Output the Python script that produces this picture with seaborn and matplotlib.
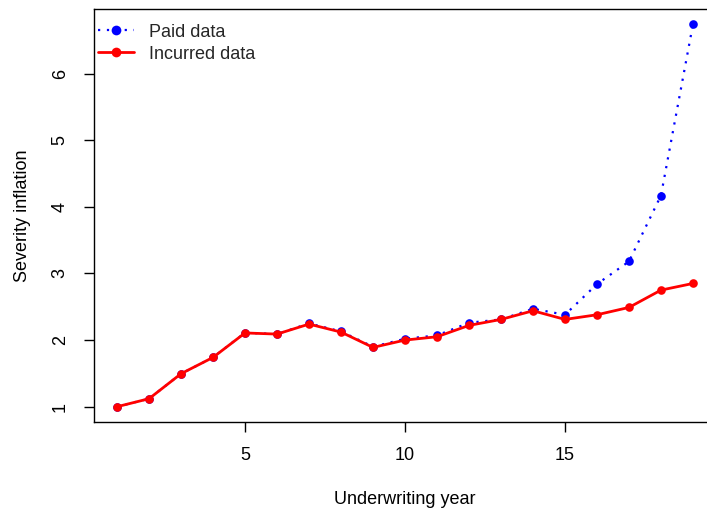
import matplotlib
matplotlib.use("Agg")
import matplotlib.pyplot as plt
import seaborn as sns
import pandas as pd
from matplotlib.lines import Line2D

years = list(range(1, 20))
paid = [1.00, 1.12, 1.495, 1.74, 2.11, 2.09, 2.25, 2.13, 1.90, 2.02,
        2.07, 2.26, 2.31, 2.47, 2.38, 2.84, 3.18, 4.17, 6.74]
incurred = [1.00, 1.12, 1.495, 1.74, 2.107, 2.09, 2.24, 2.12, 1.89, 2.00,
            2.05, 2.22, 2.31, 2.44, 2.31, 2.38, 2.49, 2.75, 2.85]
series_labels = ["Paid data", "Incurred data"]
xticks = [5, 10, 15]
yticks = [1, 2, 3, 4, 5, 6]

sns.set_theme(style="ticks")
plt.rcParams['font.family'] = ['Liberation Sans', 'DejaVu Sans']

df_paid = pd.DataFrame({"year": years, "value": paid})
df_inc = pd.DataFrame({"year": years, "value": incurred})

fig = plt.figure(figsize=(7.07, 5.13), dpi=100)
ax = fig.add_axes([94/707, 1-422/513, (716-94)/707, (422-9)/513])

sns.lineplot(data=df_paid, x="year", y="value", ax=ax, color="#0000FF",
             linestyle=(0, (1, 3)), linewidth=1.6, marker="o", markersize=6.2,
             markeredgewidth=0)
sns.lineplot(data=df_inc, x="year", y="value", ax=ax, color="#FF0000",
             linewidth=2.0, marker="o", markersize=6.2, markeredgewidth=0)

rng_x = max(years) - min(years)
ax.set_xlim(min(years) - 0.04*rng_x, max(years) + 0.04*rng_x)
ymin = min(min(paid), min(incurred)); ymax = max(max(paid), max(incurred))
ax.set_ylim(ymin - 0.04*(ymax-ymin), ymax + 0.04*(ymax-ymin))
ax.set_xticks(xticks)
ax.set_yticks(yticks)
ax.set_yticklabels([str(v) for v in yticks], rotation=90, va="center")
ax.tick_params(axis="both", direction="out", length=7.2, width=1.0,
               color="black", labelsize=13, labelcolor="black")
ax.tick_params(axis="x", pad=11)
ax.tick_params(axis="y", pad=11)
for s in ax.spines.values():
    s.set_visible(True)
    s.set_color("black")
    s.set_linewidth(1.0)
ax.set_xlabel("Underwriting year", fontsize=13, labelpad=19, color="black")
ax.set_ylabel("Severity inflation", fontsize=13, labelpad=15, color="black")

handles = [
    Line2D([0], [0], color="#0000FF", linestyle=(0, (1, 3)), linewidth=1.6,
           marker="o", markersize=7, markeredgewidth=0),
    Line2D([0], [0], color="#FF0000", linewidth=2.0, marker="o",
           markersize=7, markeredgewidth=0),
]
ax.legend(handles, series_labels, loc="upper left", frameon=False,
          fontsize=13, handlelength=2.0, handletextpad=0.85,
          bbox_to_anchor=(-0.003, 0.978), borderaxespad=0.0,
          borderpad=0.3, labelspacing=0.28)

fig.savefig("out.png", dpi=100)
